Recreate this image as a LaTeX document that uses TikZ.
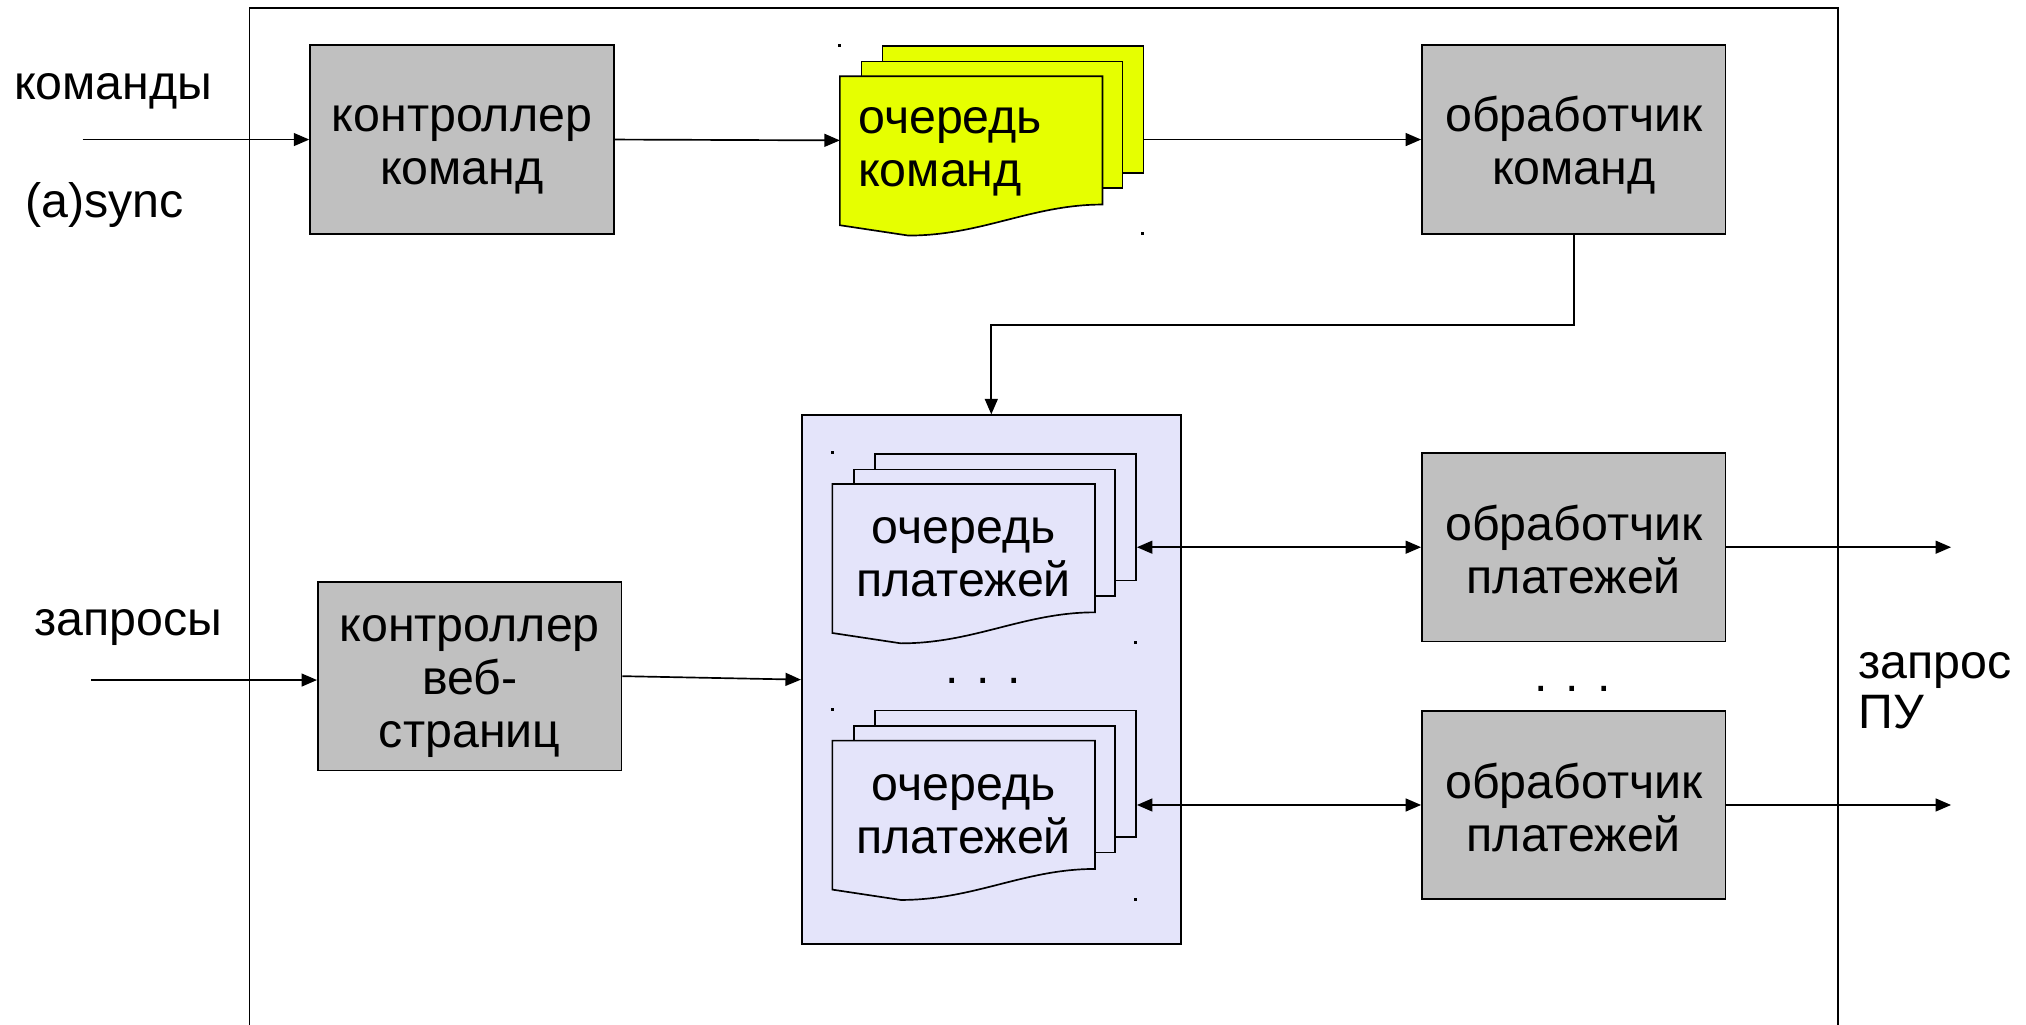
\documentclass[tikz,border=0pt]{standalone}
\usepackage{fontspec}
\setmainfont{Liberation Sans}
\usetikzlibrary{arrows.meta,calc}
\definecolor{boxgray}{RGB}{192,192,192}
\definecolor{qyellow}{RGB}{230,255,0}
\definecolor{qblue}{RGB}{228,228,250}
\newcommand{\qtop}{\rule{0pt}{36pt}}
\newcommand{\qbot}{\rule[-5pt]{0pt}{5pt}}
\newcommand{\qstack}[4]{%
  \node[sheet, fill=#4] (#1b) at (#2+32.4,-#3+24) {};
  \node[sheet, fill=#4] (#1m) at (#2+16.2,-#3+12) {};
  \node[sheet, draw=none] (#1f) at (#2,-#3) {};
  \draw[line width=1.3pt, fill=#4] (#1f.north west) -- (#1f.north east) -- (#1f.south east)
    .. controls ($(#1f.south east)+(-55,0)$) and ($(#1f.south west)+(110,-24)$) ..
    ($(#1f.south west)+(53,-24)$) -- ($(#1f.south west)+(0,-16)$) -- cycle;
}
\begin{document}
\begin{tikzpicture}[x=1pt,y=1pt,
  every node/.style={font=\fontsize{37.4}{41}\selectfont},
  gbox/.style={draw=black, line width=1.3pt, fill=boxgray, minimum width=235pt,
    minimum height=146pt, inner sep=0pt, align=center},
  sheet/.style={draw=black, line width=1.3pt, minimum width=202pt, minimum height=98pt,
    inner sep=0pt, anchor=north west},
  lbl/.style={inner sep=0pt, anchor=west},
  arr/.style={line width=1.3pt, -{Triangle[length=12pt,width=10pt]}},
  darr/.style={line width=1.3pt, {Triangle[length=12pt,width=10pt]}-{Triangle[length=12pt,width=10pt]}},
  speck/.style={fill=black, inner sep=0pt, minimum size=2.5pt}]
\useasboundingbox (0,0) rectangle (1568,-793);
\clip (0,0) rectangle (1568,-793);
\fill[white] (0,0) rectangle (1568,-793);
% outer frame
\draw[line width=1.3pt] (193,-800) -- (193,-6) -- (1422.5,-6) -- (1422.5,-800);
% grey boxes
\node[gbox] (kc) at (357.5,-108) {\qtop контроллер\\команд\qbot};
\node[gbox] (ok) at (1218,-108) {\qtop обработчик\\команд\qbot};
\node[gbox] (web) at (363.5,-523.3) {\qtop контроллер\\веб-\\страниц\qbot};
\node[gbox] (op1) at (1218,-423.5) {\qtop обработчик\\платежей\qbot};
\node[gbox] (op2) at (1218,-623) {\qtop обработчик\\платежей\qbot};
% blue container
\node[draw=black, line width=1.3pt, fill=qblue, minimum width=293.3pt, minimum height=409.3pt,
  inner sep=0pt] (bb) at (767.2,-526) {};
% queues
\qstack{y}{650}{59}{qyellow}
\node[inner sep=0pt, align=left, anchor=west] (yt) at ($(yf.west)+(14,-0.6)$) {\qtop очередь\\команд\qbot};
\qstack{pu}{644.2}{374.6}{qblue}
\node[inner sep=0pt, align=center] (put) at ($(puf.center)+(0,-1.5)$) {\qtop очередь\\платежей\qbot};
\qstack{pl}{644.2}{573.2}{qblue}
\node[inner sep=0pt, align=center] (plt) at ($(plf.center)+(0,-1.5)$) {\qtop очередь\\платежей\qbot};
\node[inner sep=0pt] (d1) at (761,-527) {. . .};
\node[inner sep=0pt] (d2) at (1217,-533) {. . .};
% specks
\node[speck] at (650,-35) {};
\node[speck] at (884,-181) {};
\node[speck] at (644,-350) {};
\node[speck] at (878.5,-497) {};
\node[speck] at (644,-549) {};
\node[speck] at (878.5,-696) {};
% labels
\node[lbl] (l1) at (10.7,-70.5) {команды};
\node[lbl] (l2) at (19.5,-159) {(a)sync};
\node[lbl] (l3) at (26.3,-486) {запросы};
\node[lbl, anchor=base west] (l4) at (1438,-525) {запрос};
\node[lbl, anchor=base west] (l5) at (1438,-564) {ПУ};
% connectors
\coordinate (inC) at (64,-108);
\draw[arr] (inC) -- (kc.west);
\draw[arr] (kc.east) -- (yf.west);
\draw[arr] (yb.east |- ok.west) -- (ok.west);
\draw[arr] (ok.south) -- ++(0,-70) -| (bb.north);
\coordinate (inW) at (70.8,-526.3);
\draw[arr] (inW) -- (web.west |- inW);
\draw[arr] (web.east) -- (bb.west);
\draw[darr] (pub.east |- op1.west) -- (op1.west);
\draw[darr] (plb.east |- op2.west) -- (op2.west);
\coordinate (out1) at (1510,-423.5);
\coordinate (out2) at (1510,-623);
\draw[arr] (op1.east) -- (out1);
\draw[arr] (op2.east) -- (out2);
\end{tikzpicture}
\end{document}
